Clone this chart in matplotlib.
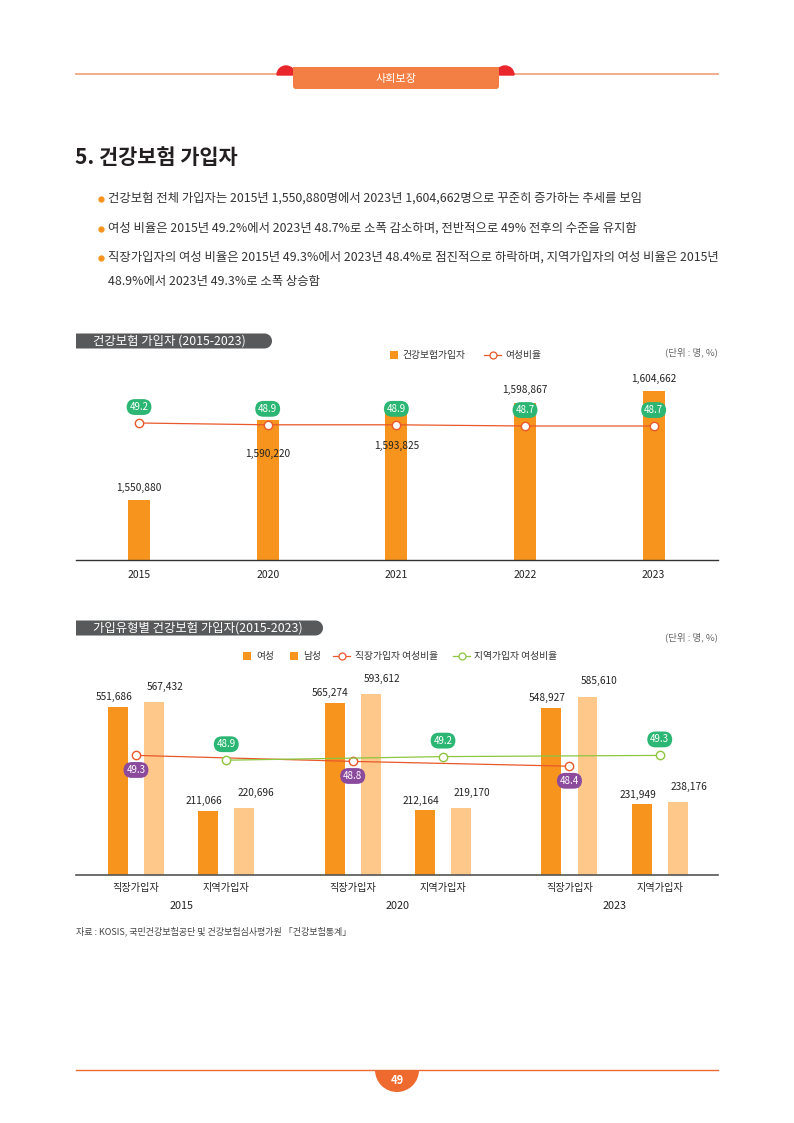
import numpy as np
import matplotlib
matplotlib.use("Agg")
import matplotlib.pyplot as plt
from matplotlib.patches import Rectangle, Wedge, FancyBboxPatch, Polygon

plt.rcParams['font.family'] = ['Noto Sans CJK KR', 'DejaVu Sans']

# 데이터
years1 = ['2015', '2020', '2021', '2022', '2023']
total = [1550880, 1590220, 1593825, 1598867, 1604662]
female_ratio = [49.2, 48.9, 48.9, 48.7, 48.7]

groups = ['2015', '2020', '2023']
types = ['직장가입자', '지역가입자']
female = [551686, 211066, 565274, 212164, 548927, 231949]
male = [567432, 220696, 593612, 219170, 585610, 238176]
work_ratio = [49.3, 48.8, 48.4]
region_ratio = [48.9, 49.2, 49.3]

bullets = [
    '건강보험 전체 가입자는 2015년 1,550,880명에서 2023년 1,604,662명으로 꾸준히 증가하는 추세를 보임',
    '여성 비율은 2015년 49.2%에서 2023년 48.7%로 소폭 감소하며, 전반적으로 49% 전후의 수준을 유지함',
    '직장가입자의 여성 비율은 2015년 49.3%에서 2023년 48.4%로 점진적으로 하락하며, 지역가입자의 여성 비율은 2015년',
]
bullet2 = '48.9%에서 2023년 49.3%로 소폭 상승함'

ORANGE = '#f7941d'
LIGHT = '#fdc88a'
LINE_RED = '#e8582a'
GREEN_LINE = '#8dc63f'
GREEN_PILL = '#2bb673'
PURPLE = '#8b4a9c'
DARK = '#231f20'

W, H = 794, 1123
fig = plt.figure(figsize=(W / 100, H / 100), dpi=100)

# 배경 장식용 축 (픽셀 좌표)
ax0 = fig.add_axes([0, 0, 1, 1])
ax0.set_xlim(0, W)
ax0.set_ylim(H, 0)
ax0.axis('off')


def px_axes(x0, y0, x1, y1):
    a = fig.add_axes([x0 / W, 1 - y1 / H, (x1 - x0) / W, (y1 - y0) / H])
    a.patch.set_alpha(0)
    return a


# 머리말
ax0.plot([76, 718], [74, 74], color='#f5a585', lw=1.3, zorder=0)
ax0.add_patch(Wedge((286, 75), 9, 180, 360, color='#e8262b', zorder=1))
ax0.add_patch(Wedge((505, 75), 9, 180, 360, color='#e8262b', zorder=1))
ax0.add_patch(FancyBboxPatch((293, 67), 206, 22, boxstyle='round,pad=0,rounding_size=3',
                             color='#f47f44', lw=0, zorder=2))
ax0.add_patch(Rectangle((293, 67), 206, 6, color='#f47f44', lw=0, zorder=2))
ax0.text(396, 79, '사회보장', color='white', fontsize=8, ha='center', va='center', zorder=3)

# 제목
ax0.text(75, 157, '5. 건강보험 가입자', fontsize=15, fontweight='bold', color=DARK,
         ha='left', va='center')

by = [198, 228, 257]
for t, y in zip(bullets, by):
    ax0.plot(101, y + 1, 'o', color=ORANGE, ms=3.5)
    ax0.text(108, y, t, fontsize=8.9, color='#333333', ha='left', va='center')
ax0.text(108, 282, bullet2, fontsize=8.9, color='#333333', ha='left', va='center')


def tab_label(x0, x1, yc, text):
    h = 15
    r = h / 2
    th = np.linspace(-np.pi / 2, np.pi / 2, 30)
    arc = np.column_stack([x1 - r + r * np.cos(th), yc + r * np.sin(th)])
    pts = np.vstack([[x0, yc + r], [x1 - r, yc + r], arc[::-1], [x1 - r, yc - r], [x0, yc - r]])
    ax0.add_patch(Polygon(pts, closed=True, color='#58595b', lw=0))
    ax0.text(x0 + 17, yc, text, color='white', fontsize=8.9, ha='left', va='center')


def pill(a, xy, v, dy, fc):
    a.annotate(f'{v}', xy, xytext=(0, dy), textcoords='offset points',
               ha='center', va='center', fontsize=7, color='white',
               bbox=dict(boxstyle='round,pad=0.3,rounding_size=0.85', fc=fc, ec='none'))


# ---------------- 차트 1 ----------------
tab_label(76, 272, 341, '건강보험 가입자 (2015-2023)')
ax0.add_patch(Rectangle((390, 351), 8, 8, color=ORANGE, lw=0))
ax0.text(402, 355, '건강보험가입자', fontsize=7, color='#333333', va='center')
ax0.plot([484, 501], [355, 355], color=LINE_RED, lw=0.9)
ax0.plot(492.5, 355, 'o', mfc='white', mec=LINE_RED, ms=5, mew=0.9)
ax0.text(505, 355, '여성비율', fontsize=7, color='#333333', va='center')
ax0.text(718, 352, '(단위 : 명, %)', fontsize=6.8, color='#666666', ha='right', va='center')

ax1 = px_axes(76, 370, 718, 560)
x1 = np.arange(len(years1))
ax1.bar(x1, total, width=0.172, color=ORANGE, zorder=2)
ax1.set_xlim(-0.49, 4.5)
ax1.set_ylim(1521276, 1521276 + 190 * 493.4)
for s in ['top', 'right', 'left']:
    ax1.spines[s].set_visible(False)
ax1.spines['bottom'].set_color('#333333')
ax1.spines['bottom'].set_linewidth(1.0)
ax1.set_yticks([])
ax1.set_xticks(x1)
ax1.set_xticklabels(years1, fontsize=7.5, color='#222222')
ax1.tick_params(axis='x', length=0, pad=7)
below = {1, 2}
for i, v in enumerate(total):
    dy = -24 if i in below else 9
    ax1.annotate(f'{v:,}', (x1[i], v), xytext=(0, dy), textcoords='offset points',
                 ha='center', va='center', fontsize=7.3, color='#222222', zorder=5)

ax1b = ax1.twinx()
ax1b.patch.set_alpha(0)
ax1b.set_ylim(49.2 - 137 / 6, 49.2 - 137 / 6 + 190 / 6)
ax1b.axis('off')
ax1b.plot(x1, female_ratio, color=LINE_RED, lw=0.9, marker='o', mfc='white', mec=LINE_RED,
          ms=6, mew=1.0, zorder=3)
for i, v in enumerate(female_ratio):
    pill(ax1b, (x1[i], v), v, 11.5, GREEN_PILL)

# ---------------- 차트 2 ----------------
tab_label(76, 323, 628, '가입유형별 건강보험 가입자(2015-2023)')
ax0.text(718, 637, '(단위 : 명, %)', fontsize=6.8, color='#666666', ha='right', va='center')
ax0.add_patch(Rectangle((243, 652), 8, 8, color=ORANGE, lw=0))
ax0.text(256, 656, '여성', fontsize=7, color='#333333', va='center')
ax0.add_patch(Rectangle((290, 652), 8, 8, color=ORANGE, lw=0))
ax0.text(303, 656, '남성', fontsize=7, color='#333333', va='center')
ax0.plot([333, 350], [656, 656], color=LINE_RED, lw=0.9)
ax0.plot(341.5, 656, 'o', mfc='white', mec=LINE_RED, ms=5, mew=0.9)
ax0.text(355, 656, '직장가입자 여성비율', fontsize=7, color='#333333', va='center')
ax0.plot([453, 470], [656, 656], color=GREEN_LINE, lw=0.9)
ax0.plot(461.5, 656, 'o', mfc='white', mec=GREEN_LINE, ms=5, mew=0.9)
ax0.text(474, 656, '지역가입자 여성비율', fontsize=7, color='#333333', va='center')

ax2 = px_axes(76, 680, 718, 875)
pos = np.array([0, 1, 2.4, 3.4, 4.8, 5.8])
bw = 0.22
ax2.bar(pos - 0.2, female, width=bw, color=ORANGE, zorder=2)
ax2.bar(pos + 0.2, male, width=bw, color=LIGHT, zorder=2)
ax2.set_xlim(-0.664, 6.445)
ax2.set_ylim(0, 195 * 3284)
for s in ['top', 'right', 'left']:
    ax2.spines[s].set_visible(False)
ax2.spines['bottom'].set_color('#555555')
ax2.spines['bottom'].set_linewidth(1.2)
ax2.set_yticks([])
ax2.set_xticks(pos)
ax2.set_xticklabels(types * len(groups), fontsize=7.3, color='#222222')
ax2.tick_params(axis='x', length=0, pad=6)
for k, g in enumerate(groups):
    ax2.text((pos[2 * k] + pos[2 * k + 1]) / 2, -0.16, g, transform=ax2.get_xaxis_transform(),
             ha='center', va='center', fontsize=7.8, color='#222222')
for i in range(len(pos)):
    ax2.annotate(f'{female[i]:,}', (pos[i] - 0.2, female[i]), xytext=(-3, 7),
                 textcoords='offset points', ha='center', va='center', fontsize=7.3,
                 color='#222222', zorder=5)
    ax2.annotate(f'{male[i]:,}', (pos[i] + 0.2, male[i]), xytext=(8, 11),
                 textcoords='offset points', ha='center', va='center', fontsize=7.3,
                 color='#222222', zorder=5)

ax2b = ax2.twinx()
ax2b.patch.set_alpha(0)
ax2b.set_ylim(49.0 - 116 / 12, 49.0 - 116 / 12 + 195 / 12)
ax2b.axis('off')
ax2b.plot(pos[0::2], work_ratio, color=LINE_RED, lw=0.9, marker='o', mfc='white',
          mec=LINE_RED, ms=6, mew=1.0, zorder=3)
ax2b.plot(pos[1::2], region_ratio, color=GREEN_LINE, lw=0.9, marker='o', mfc='white',
          mec=GREEN_LINE, ms=6, mew=1.0, zorder=3)
for xv, v in zip(pos[0::2], work_ratio):
    pill(ax2b, (xv, v), v, -10.5, PURPLE)
for xv, v in zip(pos[1::2], region_ratio):
    pill(ax2b, (xv, v), v, 11.5, GREEN_PILL)

ax0.text(76, 931, '자료 : KOSIS, 국민건강보험공단 및 건강보험심사평가원 「건강보험통계」',
         fontsize=6.5, color='#444444', ha='left', va='center')

# 꼬리말
ax0.add_patch(Wedge((397, 1070), 22, 0, 180, color='#ef6a2e', lw=0))
ax0.plot([76, 718], [1070, 1070], color='#ef6a2e', lw=1.0)
ax0.text(397, 1081, '49', color='white', fontsize=8, fontweight='bold', ha='center', va='center')

fig.savefig('out.png', dpi=100)
